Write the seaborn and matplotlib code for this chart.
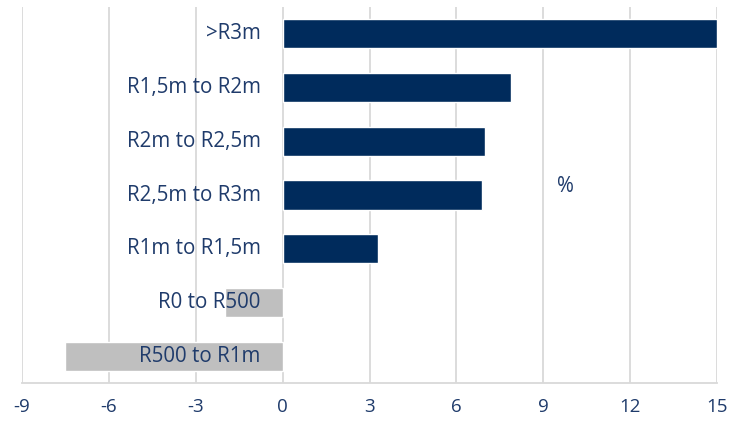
import matplotlib
matplotlib.use("Agg")
import matplotlib.pyplot as plt
import seaborn as sns
import pandas as pd

categories = [">R3m", "R1,5m to R2m", "R2m to R2,5m", "R2,5m to R3m",
              "R1m to R1,5m", "R0 to R500", "R500 to R1m"]
values = [15.0, 7.9, 7.0, 6.9, 3.3, -2.0, -7.5]
xticks = [-9, -6, -3, 0, 3, 6, 9, 12, 15]

navy = "#002B5C"
grey = "#BFBFBF"
text_col = "#1F3B6B"
colors = [navy if v >= 0 else grey for v in values]

df = pd.DataFrame({"cat": categories, "val": values})

sns.set_theme(style="white")
plt.rcParams["font.family"] = ["Open Sans", "DejaVu Sans"]

fig = plt.figure(figsize=(7.4, 4.23), dpi=100)
ax = fig.add_axes([22/740, 40/423, 695/740, 376/423])

for x in xticks:
    ax.axvline(x, color="#D9D9D9", lw=1.3, zorder=0)

sns.barplot(data=df, x="val", y="cat", hue="cat", palette=colors,
            legend=False, orient="h", width=0.54, saturation=1,
            ax=ax, zorder=2)

ax.set_xlim(-9, 15)
ax.set_ylim(6.5, -0.5)
ax.set_xticks(xticks)
ax.set_xticklabels([str(t) for t in xticks], fontsize=13.5, color=text_col)
ax.tick_params(axis="x", length=0, pad=11)
ax.set_yticks([])
ax.set_xlabel("")
ax.set_ylabel("")
for s in ["top", "right", "left"]:
    ax.spines[s].set_visible(False)
ax.spines["bottom"].set_color("#D9D9D9")
ax.spines["bottom"].set_linewidth(1.3)

for i, c in enumerate(categories):
    ax.text(-0.76, i, c, ha="right", va="center", fontsize=14.8,
            color=text_col, zorder=3)

ax.text(9.75, 2.85, "%", ha="center", va="center", fontsize=14.8,
        color=text_col, zorder=3)

fig.savefig("out.png", dpi=100)
